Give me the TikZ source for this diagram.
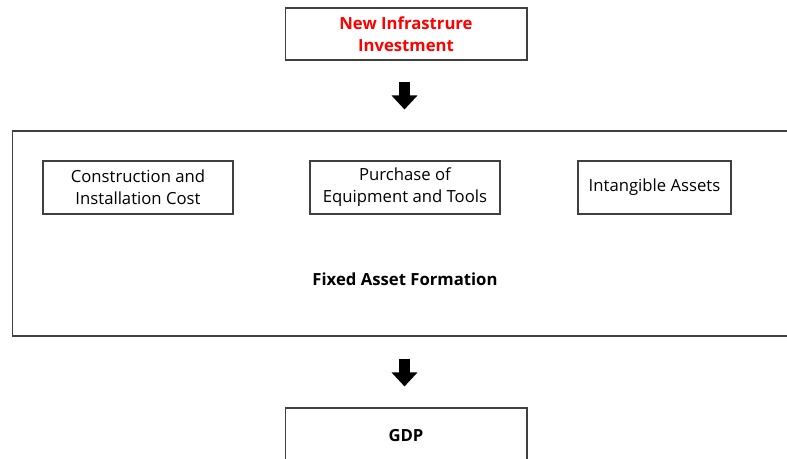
\documentclass[tikz,border=0pt]{standalone}
\usepackage{fontspec}
\setmainfont{Open Sans}
\usetikzlibrary{arrows.meta}

\begin{document}
\begin{tikzpicture}[x=0.02cm, y=-0.02cm,
        box/.style={draw=black!75, line width=0.6pt, align=center, font=\fontsize{9.5}{12.5}\selectfont, inner sep=0pt},
        fatarrow/.style={line width=0.22cm, -{Triangle[width=0.5cm, length=0.28cm]}}]
    \useasboundingbox (0,0) rectangle (787,459);
    \clip (0,0) rectangle (787,459);

    \node [box, minimum width=4.84cm, minimum height=1.04cm, text=red, font=\fontsize{9.5}{12.5}\selectfont\bfseries] (invest) at (406,34) {New Infrastrure\\Investment};

    \node [box, minimum width=16cm, minimum height=4.1cm] (fixed) at (412,233.5) {};
    \node [box, minimum width=3.8cm, minimum height=1.06cm] (constr) at (138,187.5) {Construction and\\Installation Cost};
    \node [box, minimum width=3.8cm, minimum height=1.06cm] (equip) at (405,187.5) {Purchase of\\Equipment and Tools};
    \node [box, minimum width=3.06cm, minimum height=1.06cm] (intang) at (654.5,187.5) {Intangible Assets};
    \node [font=\fontsize{9.5}{12.5}\selectfont\bfseries] (fixlabel) at (405,279) {Fixed Asset Formation};

    \node [box, minimum width=4.84cm, minimum height=1.12cm, font=\fontsize{9.5}{12.5}\selectfont\bfseries] (gdp) at (406,436) {GDP};

    % flow between the stages
    \draw [fatarrow, shorten <=0.42cm, shorten >=0.42cm] ([xshift=-0.03cm]invest.south) -- ([xshift=-0.03cm]invest.south |- fixed.north);
    \draw [fatarrow, shorten <=0.44cm, shorten >=0.42cm] ([xshift=-0.03cm]invest.south |- fixed.south) -- ([xshift=-0.03cm]gdp.north);
\end{tikzpicture}
\end{document}
